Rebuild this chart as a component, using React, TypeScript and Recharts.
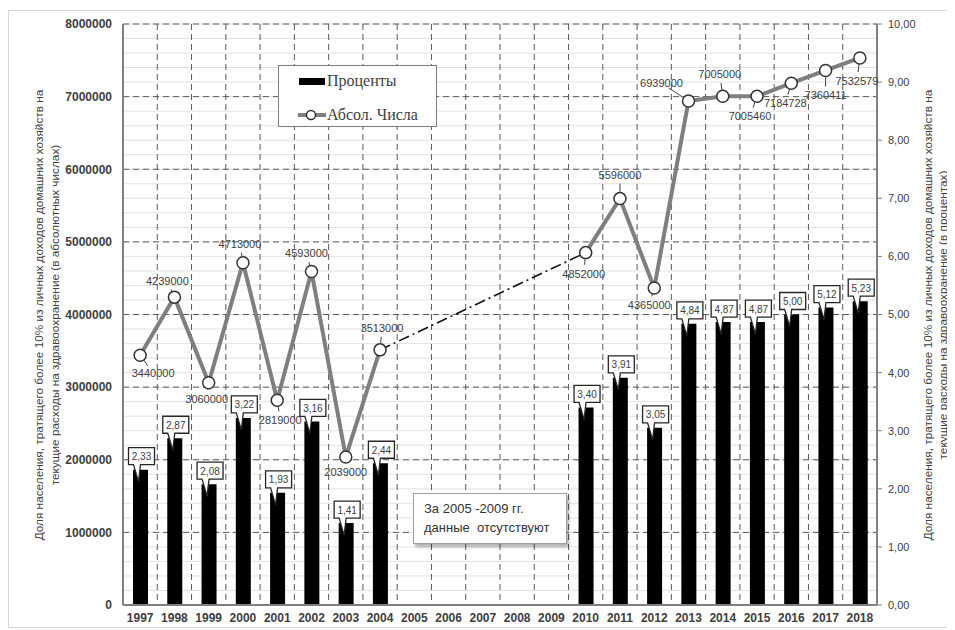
import { ComposedChart, Bar, Line, XAxis, YAxis, CartesianGrid, LabelList } from 'recharts';

const years = ['1997', '1998', '1999', '2000', '2001', '2002', '2003', '2004', '2005', '2006', '2007',
  '2008', '2009', '2010', '2011', '2012', '2013', '2014', '2015', '2016', '2017', '2018'];

// share of population, %
const percentValues = [2.33, 2.87, 2.08, 3.22, 1.93, 3.16, 1.41, 2.44, null, null, null, null, null,
  3.40, 3.91, 3.05, 4.84, 4.87, 4.87, 5.00, 5.12, 5.23];

// absolute numbers
const absValues = [3440000, 4239000, 3060000, 4713000, 2819000, 4593000, 2039000, 3513000, null, null, null,
  null, null, 4852000, 5596000, 4365000, 6939000, 7005000, 7005460, 7184728, 7360411, 7532579];

const leftTicks = [0, 1000000, 2000000, 3000000, 4000000, 5000000, 6000000, 7000000, 8000000];
const rightTicks = [0, 1, 2, 3, 4, 5, 6, 7, 8, 9, 10];

// label placement for the absolute numbers (dx, dy from the point)
const labelOffsets: [number, number][] = [
  [13, 18], [-7, -16], [-2, 16], [-3, -19], [3, 20], [-5, -18], [0, 15], [2, -22],
  [0, 0], [0, 0], [0, 0], [0, 0], [0, 0],
  [-2, 21], [0, -24], [-5, 17], [-27, -18], [-3, -22], [-7, 20], [-6, 20], [0, 25], [-3, 23],
];

const bridgeYears = ['2004', '2010'];

const data = years.map((year, i) => ({
  year,
  pct: percentValues[i],
  abs: absValues[i],
  bridge: bridgeYears.includes(year) ? absValues[i] : null,
}));

const FONT = '"Liberation Sans", Arial, sans-serif';
const TEXT = '#404040';

const fmtPct = (v: number) => v.toFixed(2).replace('.', ',');

const BarCallout = (props: any) => {
  const { x, y, width, value } = props;
  if (value == null) return null;
  const cx = x + width / 2 + 1;
  const w = 26;
  const h = 17;
  const L = cx - w / 2;
  const R = cx + w / 2;
  const B = y - 5;
  const T = B - h;
  const d = `M${L},${T} H${R} V${B} H${L + 12} L${cx - 3},${y + 12} L${L + 5},${B} H${L} Z`;
  return (
    <g>
      <path d={d} fill="#fff" stroke="#262626" strokeWidth={1.3} />
      <text x={cx} y={T + h / 2 + 0.5} textAnchor="middle" dominantBaseline="central"
        fontSize={10} fontFamily={FONT} fill={TEXT}>
        {fmtPct(value)}
      </text>
    </g>
  );
};

const LineLabel = (props: any) => {
  const { x, y, value } = props;
  if (value == null) return null;
  const idx = absValues.indexOf(value);
  const [dx, dy] = labelOffsets[idx] || [0, -16];
  const len = Math.sqrt(dx * dx + dy * dy);
  const ux = dx / len;
  const uy = dy / len;
  const end = len - 9;
  return (
    <g>
      {end > 7 && (
        <line x1={x + ux * 6} y1={y + uy * 6} x2={x + ux * end} y2={y + uy * end}
          stroke="#404040" strokeWidth={1} />
      )}
      <text x={x + dx} y={y + dy} textAnchor="middle" dominantBaseline="central"
        fontSize={11} fontFamily={FONT} fill={TEXT}>
        {value}
      </text>
    </g>
  );
};

export default function App() {
  const W = 940;
  const H = 616;

  return (
    <div style={{ position: 'relative', width: W, height: H, marginTop: 2, border: '1px solid #d6d6d6', background: '#fff' }}>
      <ComposedChart width={W} height={H} data={data} margin={{ top: 13, right: 0, bottom: 0, left: 0 }}
        barSize={15}>
        <CartesianGrid yAxisId="left" vertical={false} stroke="#e2e2e2"
          horizontalCoordinatesGenerator={({ offset }: any) =>
            Array.from({ length: 41 }, (_, k) => offset.top + (offset.height * k) / 40)} />
        <CartesianGrid yAxisId="left" stroke="#5a5a5a" strokeDasharray="6 4"
          horizontalCoordinatesGenerator={({ offset }: any) =>
            Array.from({ length: 8 }, (_, k) => offset.top + (offset.height * k) / 8)}
          verticalCoordinatesGenerator={({ offset }: any) =>
            Array.from({ length: 21 }, (_, k) => offset.left + (offset.width * (k + 1)) / 22)} />
        <XAxis dataKey="year" height={22} tickLine={false} interval={0}
          axisLine={{ stroke: '#808080', strokeWidth: 2 }}
          tick={{ fontSize: 12, fontWeight: 'bold', fontFamily: FONT, fill: TEXT }} />
        <YAxis yAxisId="left" width={114} domain={[0, 8000000]} ticks={leftTicks} tickLine={false}
          tickSize={9} tickMargin={2} axisLine={{ stroke: '#808080', strokeWidth: 2 }}
          tickFormatter={(v: number) => String(v)}
          tick={{ fontSize: 12, fontWeight: 'bold', fontFamily: FONT, fill: TEXT }} />
        <YAxis yAxisId="right" orientation="right" width={72} domain={[0, 10]} ticks={rightTicks}
          tickSize={5} tickMargin={6} tickLine={{ stroke: '#808080' }}
          axisLine={{ stroke: '#808080', strokeWidth: 2 }}
          tickFormatter={fmtPct}
          tick={{ fontSize: 11, fontFamily: FONT, fill: TEXT }} />
        <Bar yAxisId="right" dataKey="pct" fill="#000" isAnimationActive={false}>
          <LabelList dataKey="pct" content={<BarCallout />} />
        </Bar>
        <Line yAxisId="left" dataKey="bridge" connectNulls stroke="#111" strokeWidth={1.6}
          strokeDasharray="11 4 2 4" dot={false} activeDot={false} isAnimationActive={false} />
        <Line yAxisId="left" dataKey="abs" stroke="#7f7f7f" strokeWidth={4}
          dot={{ r: 6, fill: '#fff', stroke: '#333', strokeWidth: 1.5 }} activeDot={false}
          isAnimationActive={false}>
          <LabelList dataKey="abs" content={<LineLabel />} />
        </Line>
      </ComposedChart>

      {/* axis titles */}
      <svg width={W} height={H} style={{ position: 'absolute', left: 0, top: 0, pointerEvents: 'none' }}>
        <g fontFamily={FONT} fontSize={11.8} fill={TEXT} textAnchor="middle" dominantBaseline="central">
          <text x={30} y={304} transform="rotate(-90 30 304)">
            Доля населения, тратящего более 10% из личных доходов домашних хозяйств на
          </text>
          <text x={46} y={304} transform="rotate(-90 46 304)">
            текущие расходы на здравоохранение (в абсолютных числах)
          </text>
          <text x={919} y={304} transform="rotate(-90 919 304)">
            Доля населения, тратящего более 10% из личных доходов домашних хозяйств на
          </text>
          <text x={934} y={304} transform="rotate(-90 934 304)">
            текущие расходы на здравоохранение (в процентах)
          </text>
        </g>
      </svg>

      {/* legend */}
      <div style={{ position: 'absolute', left: 269, top: 54, width: 157, height: 60, border: '1px solid #7f7f7f',
        background: '#fff', fontFamily: '"Liberation Serif", "Times New Roman", serif', fontSize: 16, color: TEXT }}>
        <div style={{ position: 'absolute', left: 20, top: 12, width: 26, height: 7, background: '#000' }} />
        <div style={{ position: 'absolute', left: 48, top: 5, lineHeight: '20px' }}>Проценты</div>
        <svg style={{ position: 'absolute', left: 18, top: 42 }} width={30} height={14}>
          <line x1={1} y1={7} x2={29} y2={7} stroke="#7f7f7f" strokeWidth={4} />
          <circle cx={14} cy={7} r={4.5} fill="#fff" stroke="#333" strokeWidth={1.5} />
        </svg>
        <div style={{ position: 'absolute', left: 48, top: 39, lineHeight: '20px' }}>Абсол. Числа</div>
      </div>

      {/* note */}
      <div style={{ position: 'absolute', left: 404, top: 482, width: 152, height: 49, border: '1px solid #a0a0a0',
        background: '#fff', boxShadow: '2px 3px 3px rgba(0,0,0,0.3)', fontFamily: FONT, fontSize: 13, color: '#333' }}>
        <div style={{ position: 'absolute', left: 10, top: 6, lineHeight: '18px', whiteSpace: 'pre' }}>За 2005 -2009 гг.</div>
        <div style={{ position: 'absolute', left: 10, top: 25, lineHeight: '18px', whiteSpace: 'pre' }}>данные  отсутствуют</div>
      </div>
    </div>
  );
}
